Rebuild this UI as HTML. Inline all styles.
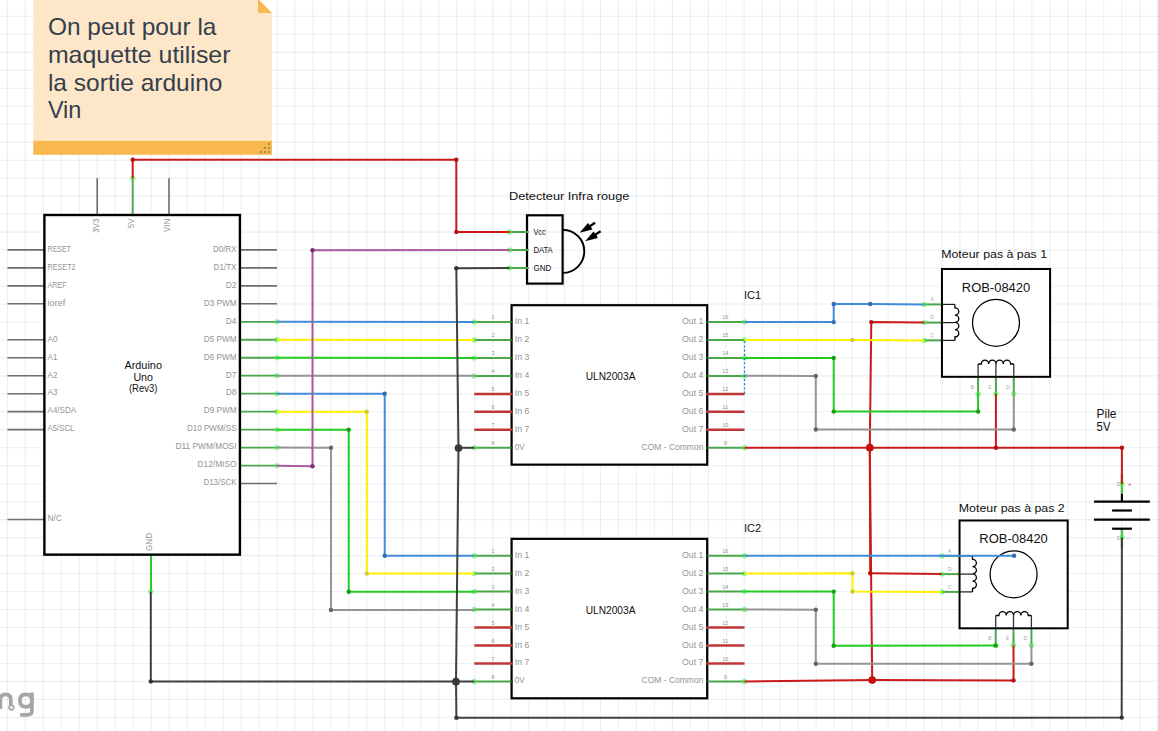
<!DOCTYPE html>
<html><head><meta charset="utf-8"><style>
html,body{margin:0;padding:0;background:#fff;overflow:hidden;}
svg{display:block;font-family:"Liberation Sans", sans-serif;}
</style></head><body>
<svg width="1158" height="731" viewBox="0 0 1158 731">
<rect x="0" y="0" width="1158" height="731" fill="#ffffff"/>
<g fill="none" stroke="#a6a6a6" stroke-width="3.7" stroke-linecap="butt"><path d="M0.3,709 L0.3,700 Q0.3,694.4 5.5,694.4 Q10.8,694.4 10.8,700 L10.8,705"/><circle cx="11.4" cy="707.6" r="2.3" stroke-width="1.7"/><path d="M31.9,692.6 L31.9,711.5 Q31.9,714.8 27,714.8 L20.2,714.8"/><path d="M31.9,701 Q31.9,694.4 25.8,694.4 Q19.9,694.4 19.9,700.8 Q19.9,706.8 25.8,706.8 Q31.9,706.8 31.9,701"/></g>
<g>
<line x1="-10.57" y1="0" x2="-10.57" y2="731" stroke="#96a5c3" stroke-opacity="0.18" stroke-width="1.1"/>
<line x1="7.40" y1="0" x2="7.40" y2="731" stroke="#96a5c3" stroke-opacity="0.18" stroke-width="1.1"/>
<line x1="25.37" y1="0" x2="25.37" y2="731" stroke="#96a5c3" stroke-opacity="0.18" stroke-width="1.1"/>
<line x1="43.35" y1="0" x2="43.35" y2="731" stroke="#96a5c3" stroke-opacity="0.18" stroke-width="1.1"/>
<line x1="61.32" y1="0" x2="61.32" y2="731" stroke="#96a5c3" stroke-opacity="0.18" stroke-width="1.1"/>
<line x1="79.29" y1="0" x2="79.29" y2="731" stroke="#96a5c3" stroke-opacity="0.18" stroke-width="1.1"/>
<line x1="97.27" y1="0" x2="97.27" y2="731" stroke="#96a5c3" stroke-opacity="0.18" stroke-width="1.1"/>
<line x1="115.24" y1="0" x2="115.24" y2="731" stroke="#96a5c3" stroke-opacity="0.18" stroke-width="1.1"/>
<line x1="133.21" y1="0" x2="133.21" y2="731" stroke="#96a5c3" stroke-opacity="0.18" stroke-width="1.1"/>
<line x1="151.18" y1="0" x2="151.18" y2="731" stroke="#96a5c3" stroke-opacity="0.18" stroke-width="1.1"/>
<line x1="169.16" y1="0" x2="169.16" y2="731" stroke="#96a5c3" stroke-opacity="0.18" stroke-width="1.1"/>
<line x1="187.13" y1="0" x2="187.13" y2="731" stroke="#96a5c3" stroke-opacity="0.18" stroke-width="1.1"/>
<line x1="205.10" y1="0" x2="205.10" y2="731" stroke="#96a5c3" stroke-opacity="0.18" stroke-width="1.1"/>
<line x1="223.08" y1="0" x2="223.08" y2="731" stroke="#96a5c3" stroke-opacity="0.18" stroke-width="1.1"/>
<line x1="241.05" y1="0" x2="241.05" y2="731" stroke="#96a5c3" stroke-opacity="0.18" stroke-width="1.1"/>
<line x1="259.02" y1="0" x2="259.02" y2="731" stroke="#96a5c3" stroke-opacity="0.18" stroke-width="1.1"/>
<line x1="276.99" y1="0" x2="276.99" y2="731" stroke="#96a5c3" stroke-opacity="0.18" stroke-width="1.1"/>
<line x1="294.97" y1="0" x2="294.97" y2="731" stroke="#96a5c3" stroke-opacity="0.18" stroke-width="1.1"/>
<line x1="312.94" y1="0" x2="312.94" y2="731" stroke="#96a5c3" stroke-opacity="0.18" stroke-width="1.1"/>
<line x1="330.91" y1="0" x2="330.91" y2="731" stroke="#96a5c3" stroke-opacity="0.18" stroke-width="1.1"/>
<line x1="348.89" y1="0" x2="348.89" y2="731" stroke="#96a5c3" stroke-opacity="0.18" stroke-width="1.1"/>
<line x1="366.86" y1="0" x2="366.86" y2="731" stroke="#96a5c3" stroke-opacity="0.18" stroke-width="1.1"/>
<line x1="384.83" y1="0" x2="384.83" y2="731" stroke="#96a5c3" stroke-opacity="0.18" stroke-width="1.1"/>
<line x1="402.81" y1="0" x2="402.81" y2="731" stroke="#96a5c3" stroke-opacity="0.18" stroke-width="1.1"/>
<line x1="420.78" y1="0" x2="420.78" y2="731" stroke="#96a5c3" stroke-opacity="0.18" stroke-width="1.1"/>
<line x1="438.75" y1="0" x2="438.75" y2="731" stroke="#96a5c3" stroke-opacity="0.18" stroke-width="1.1"/>
<line x1="456.72" y1="0" x2="456.72" y2="731" stroke="#96a5c3" stroke-opacity="0.18" stroke-width="1.1"/>
<line x1="474.70" y1="0" x2="474.70" y2="731" stroke="#96a5c3" stroke-opacity="0.18" stroke-width="1.1"/>
<line x1="492.67" y1="0" x2="492.67" y2="731" stroke="#96a5c3" stroke-opacity="0.18" stroke-width="1.1"/>
<line x1="510.64" y1="0" x2="510.64" y2="731" stroke="#96a5c3" stroke-opacity="0.18" stroke-width="1.1"/>
<line x1="528.62" y1="0" x2="528.62" y2="731" stroke="#96a5c3" stroke-opacity="0.18" stroke-width="1.1"/>
<line x1="546.59" y1="0" x2="546.59" y2="731" stroke="#96a5c3" stroke-opacity="0.18" stroke-width="1.1"/>
<line x1="564.56" y1="0" x2="564.56" y2="731" stroke="#96a5c3" stroke-opacity="0.18" stroke-width="1.1"/>
<line x1="582.54" y1="0" x2="582.54" y2="731" stroke="#96a5c3" stroke-opacity="0.18" stroke-width="1.1"/>
<line x1="600.51" y1="0" x2="600.51" y2="731" stroke="#96a5c3" stroke-opacity="0.18" stroke-width="1.1"/>
<line x1="618.48" y1="0" x2="618.48" y2="731" stroke="#96a5c3" stroke-opacity="0.18" stroke-width="1.1"/>
<line x1="636.45" y1="0" x2="636.45" y2="731" stroke="#96a5c3" stroke-opacity="0.18" stroke-width="1.1"/>
<line x1="654.43" y1="0" x2="654.43" y2="731" stroke="#96a5c3" stroke-opacity="0.18" stroke-width="1.1"/>
<line x1="672.40" y1="0" x2="672.40" y2="731" stroke="#96a5c3" stroke-opacity="0.18" stroke-width="1.1"/>
<line x1="690.37" y1="0" x2="690.37" y2="731" stroke="#96a5c3" stroke-opacity="0.18" stroke-width="1.1"/>
<line x1="708.35" y1="0" x2="708.35" y2="731" stroke="#96a5c3" stroke-opacity="0.18" stroke-width="1.1"/>
<line x1="726.32" y1="0" x2="726.32" y2="731" stroke="#96a5c3" stroke-opacity="0.18" stroke-width="1.1"/>
<line x1="744.29" y1="0" x2="744.29" y2="731" stroke="#96a5c3" stroke-opacity="0.18" stroke-width="1.1"/>
<line x1="762.27" y1="0" x2="762.27" y2="731" stroke="#96a5c3" stroke-opacity="0.18" stroke-width="1.1"/>
<line x1="780.24" y1="0" x2="780.24" y2="731" stroke="#96a5c3" stroke-opacity="0.18" stroke-width="1.1"/>
<line x1="798.21" y1="0" x2="798.21" y2="731" stroke="#96a5c3" stroke-opacity="0.18" stroke-width="1.1"/>
<line x1="816.18" y1="0" x2="816.18" y2="731" stroke="#96a5c3" stroke-opacity="0.18" stroke-width="1.1"/>
<line x1="834.16" y1="0" x2="834.16" y2="731" stroke="#96a5c3" stroke-opacity="0.18" stroke-width="1.1"/>
<line x1="852.13" y1="0" x2="852.13" y2="731" stroke="#96a5c3" stroke-opacity="0.18" stroke-width="1.1"/>
<line x1="870.10" y1="0" x2="870.10" y2="731" stroke="#96a5c3" stroke-opacity="0.18" stroke-width="1.1"/>
<line x1="888.08" y1="0" x2="888.08" y2="731" stroke="#96a5c3" stroke-opacity="0.18" stroke-width="1.1"/>
<line x1="906.05" y1="0" x2="906.05" y2="731" stroke="#96a5c3" stroke-opacity="0.18" stroke-width="1.1"/>
<line x1="924.02" y1="0" x2="924.02" y2="731" stroke="#96a5c3" stroke-opacity="0.18" stroke-width="1.1"/>
<line x1="942.00" y1="0" x2="942.00" y2="731" stroke="#96a5c3" stroke-opacity="0.18" stroke-width="1.1"/>
<line x1="959.97" y1="0" x2="959.97" y2="731" stroke="#96a5c3" stroke-opacity="0.18" stroke-width="1.1"/>
<line x1="977.94" y1="0" x2="977.94" y2="731" stroke="#96a5c3" stroke-opacity="0.18" stroke-width="1.1"/>
<line x1="995.91" y1="0" x2="995.91" y2="731" stroke="#96a5c3" stroke-opacity="0.18" stroke-width="1.1"/>
<line x1="1013.89" y1="0" x2="1013.89" y2="731" stroke="#96a5c3" stroke-opacity="0.18" stroke-width="1.1"/>
<line x1="1031.86" y1="0" x2="1031.86" y2="731" stroke="#96a5c3" stroke-opacity="0.18" stroke-width="1.1"/>
<line x1="1049.83" y1="0" x2="1049.83" y2="731" stroke="#96a5c3" stroke-opacity="0.18" stroke-width="1.1"/>
<line x1="1067.81" y1="0" x2="1067.81" y2="731" stroke="#96a5c3" stroke-opacity="0.18" stroke-width="1.1"/>
<line x1="1085.78" y1="0" x2="1085.78" y2="731" stroke="#96a5c3" stroke-opacity="0.18" stroke-width="1.1"/>
<line x1="1103.75" y1="0" x2="1103.75" y2="731" stroke="#96a5c3" stroke-opacity="0.18" stroke-width="1.1"/>
<line x1="1121.73" y1="0" x2="1121.73" y2="731" stroke="#96a5c3" stroke-opacity="0.18" stroke-width="1.1"/>
<line x1="1139.70" y1="0" x2="1139.70" y2="731" stroke="#96a5c3" stroke-opacity="0.18" stroke-width="1.1"/>
<line x1="1157.67" y1="0" x2="1157.67" y2="731" stroke="#96a5c3" stroke-opacity="0.18" stroke-width="1.1"/>
<line x1="0" y1="-1.57" x2="1158" y2="-1.57" stroke="#96a5c3" stroke-opacity="0.18" stroke-width="1.1"/>
<line x1="0" y1="16.40" x2="1158" y2="16.40" stroke="#96a5c3" stroke-opacity="0.18" stroke-width="1.1"/>
<line x1="0" y1="34.37" x2="1158" y2="34.37" stroke="#96a5c3" stroke-opacity="0.18" stroke-width="1.1"/>
<line x1="0" y1="52.35" x2="1158" y2="52.35" stroke="#96a5c3" stroke-opacity="0.18" stroke-width="1.1"/>
<line x1="0" y1="70.32" x2="1158" y2="70.32" stroke="#96a5c3" stroke-opacity="0.18" stroke-width="1.1"/>
<line x1="0" y1="88.29" x2="1158" y2="88.29" stroke="#96a5c3" stroke-opacity="0.18" stroke-width="1.1"/>
<line x1="0" y1="106.26" x2="1158" y2="106.26" stroke="#96a5c3" stroke-opacity="0.18" stroke-width="1.1"/>
<line x1="0" y1="124.24" x2="1158" y2="124.24" stroke="#96a5c3" stroke-opacity="0.18" stroke-width="1.1"/>
<line x1="0" y1="142.21" x2="1158" y2="142.21" stroke="#96a5c3" stroke-opacity="0.18" stroke-width="1.1"/>
<line x1="0" y1="160.18" x2="1158" y2="160.18" stroke="#96a5c3" stroke-opacity="0.18" stroke-width="1.1"/>
<line x1="0" y1="178.16" x2="1158" y2="178.16" stroke="#96a5c3" stroke-opacity="0.18" stroke-width="1.1"/>
<line x1="0" y1="196.13" x2="1158" y2="196.13" stroke="#96a5c3" stroke-opacity="0.18" stroke-width="1.1"/>
<line x1="0" y1="214.10" x2="1158" y2="214.10" stroke="#96a5c3" stroke-opacity="0.18" stroke-width="1.1"/>
<line x1="0" y1="232.08" x2="1158" y2="232.08" stroke="#96a5c3" stroke-opacity="0.18" stroke-width="1.1"/>
<line x1="0" y1="250.05" x2="1158" y2="250.05" stroke="#96a5c3" stroke-opacity="0.18" stroke-width="1.1"/>
<line x1="0" y1="268.02" x2="1158" y2="268.02" stroke="#96a5c3" stroke-opacity="0.18" stroke-width="1.1"/>
<line x1="0" y1="285.99" x2="1158" y2="285.99" stroke="#96a5c3" stroke-opacity="0.18" stroke-width="1.1"/>
<line x1="0" y1="303.97" x2="1158" y2="303.97" stroke="#96a5c3" stroke-opacity="0.18" stroke-width="1.1"/>
<line x1="0" y1="321.94" x2="1158" y2="321.94" stroke="#96a5c3" stroke-opacity="0.18" stroke-width="1.1"/>
<line x1="0" y1="339.91" x2="1158" y2="339.91" stroke="#96a5c3" stroke-opacity="0.18" stroke-width="1.1"/>
<line x1="0" y1="357.89" x2="1158" y2="357.89" stroke="#96a5c3" stroke-opacity="0.18" stroke-width="1.1"/>
<line x1="0" y1="375.86" x2="1158" y2="375.86" stroke="#96a5c3" stroke-opacity="0.18" stroke-width="1.1"/>
<line x1="0" y1="393.83" x2="1158" y2="393.83" stroke="#96a5c3" stroke-opacity="0.18" stroke-width="1.1"/>
<line x1="0" y1="411.81" x2="1158" y2="411.81" stroke="#96a5c3" stroke-opacity="0.18" stroke-width="1.1"/>
<line x1="0" y1="429.78" x2="1158" y2="429.78" stroke="#96a5c3" stroke-opacity="0.18" stroke-width="1.1"/>
<line x1="0" y1="447.75" x2="1158" y2="447.75" stroke="#96a5c3" stroke-opacity="0.18" stroke-width="1.1"/>
<line x1="0" y1="465.72" x2="1158" y2="465.72" stroke="#96a5c3" stroke-opacity="0.18" stroke-width="1.1"/>
<line x1="0" y1="483.70" x2="1158" y2="483.70" stroke="#96a5c3" stroke-opacity="0.18" stroke-width="1.1"/>
<line x1="0" y1="501.67" x2="1158" y2="501.67" stroke="#96a5c3" stroke-opacity="0.18" stroke-width="1.1"/>
<line x1="0" y1="519.64" x2="1158" y2="519.64" stroke="#96a5c3" stroke-opacity="0.18" stroke-width="1.1"/>
<line x1="0" y1="537.62" x2="1158" y2="537.62" stroke="#96a5c3" stroke-opacity="0.18" stroke-width="1.1"/>
<line x1="0" y1="555.59" x2="1158" y2="555.59" stroke="#96a5c3" stroke-opacity="0.18" stroke-width="1.1"/>
<line x1="0" y1="573.56" x2="1158" y2="573.56" stroke="#96a5c3" stroke-opacity="0.18" stroke-width="1.1"/>
<line x1="0" y1="591.54" x2="1158" y2="591.54" stroke="#96a5c3" stroke-opacity="0.18" stroke-width="1.1"/>
<line x1="0" y1="609.51" x2="1158" y2="609.51" stroke="#96a5c3" stroke-opacity="0.18" stroke-width="1.1"/>
<line x1="0" y1="627.48" x2="1158" y2="627.48" stroke="#96a5c3" stroke-opacity="0.18" stroke-width="1.1"/>
<line x1="0" y1="645.45" x2="1158" y2="645.45" stroke="#96a5c3" stroke-opacity="0.18" stroke-width="1.1"/>
<line x1="0" y1="663.43" x2="1158" y2="663.43" stroke="#96a5c3" stroke-opacity="0.18" stroke-width="1.1"/>
<line x1="0" y1="681.40" x2="1158" y2="681.40" stroke="#96a5c3" stroke-opacity="0.18" stroke-width="1.1"/>
<line x1="0" y1="699.37" x2="1158" y2="699.37" stroke="#96a5c3" stroke-opacity="0.18" stroke-width="1.1"/>
<line x1="0" y1="717.35" x2="1158" y2="717.35" stroke="#96a5c3" stroke-opacity="0.18" stroke-width="1.1"/>
</g>
<polygon points="33.3,-1 258,-1 272,13 272,141 33.3,141" fill="#fde7c8"/>
<polygon points="258,-1 258,13 272,13" fill="#f9b94f"/>
<rect x="33.3" y="140.8" width="238.7" height="14" fill="#f9b94f"/>
<rect x="267.9" y="143" width="2" height="2" fill="#a58a5e"/>
<rect x="263.9" y="147" width="2" height="2" fill="#a58a5e"/>
<rect x="267.9" y="147" width="2" height="2" fill="#a58a5e"/>
<rect x="259.9" y="151" width="2" height="2" fill="#a58a5e"/>
<rect x="263.9" y="151" width="2" height="2" fill="#a58a5e"/>
<rect x="267.9" y="151" width="2" height="2" fill="#a58a5e"/>
<text x="47.90" y="35.30" font-size="23.6" fill="#34404c" text-anchor="start" textLength="168.55" lengthAdjust="spacingAndGlyphs" >On peut pour la</text>
<text x="47.90" y="63.00" font-size="23.6" fill="#34404c" text-anchor="start" textLength="182.58" lengthAdjust="spacingAndGlyphs" >maquette utiliser</text>
<text x="47.90" y="90.60" font-size="23.6" fill="#34404c" text-anchor="start" textLength="174.65" lengthAdjust="spacingAndGlyphs" >la sortie arduino</text>
<text x="47.90" y="118.40" font-size="23.6" fill="#34404c" text-anchor="start" textLength="33.48" lengthAdjust="spacingAndGlyphs" >Vin</text>
<line x1="7.5" y1="249.9" x2="44.4" y2="249.9" stroke="#6e6e6e" stroke-width="1.6" stroke-linecap="butt"/>
<line x1="7.5" y1="267.873" x2="44.4" y2="267.873" stroke="#6e6e6e" stroke-width="1.6" stroke-linecap="butt"/>
<line x1="7.5" y1="285.846" x2="44.4" y2="285.846" stroke="#6e6e6e" stroke-width="1.6" stroke-linecap="butt"/>
<line x1="7.5" y1="303.819" x2="44.4" y2="303.819" stroke="#6e6e6e" stroke-width="1.6" stroke-linecap="butt"/>
<line x1="7.5" y1="339.765" x2="44.4" y2="339.765" stroke="#6e6e6e" stroke-width="1.6" stroke-linecap="butt"/>
<line x1="7.5" y1="357.738" x2="44.4" y2="357.738" stroke="#6e6e6e" stroke-width="1.6" stroke-linecap="butt"/>
<line x1="7.5" y1="375.711" x2="44.4" y2="375.711" stroke="#6e6e6e" stroke-width="1.6" stroke-linecap="butt"/>
<line x1="7.5" y1="393.68399999999997" x2="44.4" y2="393.68399999999997" stroke="#6e6e6e" stroke-width="1.6" stroke-linecap="butt"/>
<line x1="7.5" y1="411.65700000000004" x2="44.4" y2="411.65700000000004" stroke="#6e6e6e" stroke-width="1.6" stroke-linecap="butt"/>
<line x1="7.5" y1="429.63" x2="44.4" y2="429.63" stroke="#6e6e6e" stroke-width="1.6" stroke-linecap="butt"/>
<line x1="7.5" y1="519.495" x2="44.4" y2="519.495" stroke="#6e6e6e" stroke-width="1.6" stroke-linecap="butt"/>
<line x1="239.9" y1="249.9" x2="277" y2="249.9" stroke="#6e6e6e" stroke-width="1.6" stroke-linecap="butt"/>
<line x1="239.9" y1="267.873" x2="277" y2="267.873" stroke="#6e6e6e" stroke-width="1.6" stroke-linecap="butt"/>
<line x1="239.9" y1="285.846" x2="277" y2="285.846" stroke="#6e6e6e" stroke-width="1.6" stroke-linecap="butt"/>
<line x1="239.9" y1="303.819" x2="277" y2="303.819" stroke="#6e6e6e" stroke-width="1.6" stroke-linecap="butt"/>
<line x1="239.9" y1="321.79200000000003" x2="277" y2="321.79200000000003" stroke="#4ca64c" stroke-width="1.8" stroke-linecap="butt"/>
<line x1="239.9" y1="339.765" x2="277" y2="339.765" stroke="#4ca64c" stroke-width="1.8" stroke-linecap="butt"/>
<line x1="239.9" y1="357.738" x2="277" y2="357.738" stroke="#4ca64c" stroke-width="1.8" stroke-linecap="butt"/>
<line x1="239.9" y1="375.711" x2="277" y2="375.711" stroke="#4ca64c" stroke-width="1.8" stroke-linecap="butt"/>
<line x1="239.9" y1="393.68399999999997" x2="277" y2="393.68399999999997" stroke="#4ca64c" stroke-width="1.8" stroke-linecap="butt"/>
<line x1="239.9" y1="411.65700000000004" x2="277" y2="411.65700000000004" stroke="#4ca64c" stroke-width="1.8" stroke-linecap="butt"/>
<line x1="239.9" y1="429.63" x2="277" y2="429.63" stroke="#4ca64c" stroke-width="1.8" stroke-linecap="butt"/>
<line x1="239.9" y1="447.60299999999995" x2="277" y2="447.60299999999995" stroke="#4ca64c" stroke-width="1.8" stroke-linecap="butt"/>
<line x1="239.9" y1="465.576" x2="277" y2="465.576" stroke="#4ca64c" stroke-width="1.8" stroke-linecap="butt"/>
<line x1="239.9" y1="483.549" x2="277" y2="483.549" stroke="#6e6e6e" stroke-width="1.6" stroke-linecap="butt"/>
<line x1="97.2" y1="178.3" x2="97.2" y2="215.0" stroke="#6e6e6e" stroke-width="1.6" stroke-linecap="butt"/>
<line x1="169.0" y1="178.3" x2="169.0" y2="215.0" stroke="#6e6e6e" stroke-width="1.6" stroke-linecap="butt"/>
<line x1="132.7" y1="178.3" x2="132.7" y2="215.0" stroke="#4ca64c" stroke-width="1.9" stroke-linecap="butt"/>
<line x1="151.0" y1="553.4499999999999" x2="151.0" y2="591.4" stroke="#28cc28" stroke-width="2.0" stroke-linecap="butt"/>
<rect x="44.4" y="215.0" width="195.5" height="339.65" fill="#fff" stroke="#000000" stroke-width="2.4"/>
<text x="47.60" y="251.70" font-size="9.1" fill="#939393" text-anchor="start" textLength="23.23" lengthAdjust="spacingAndGlyphs" >RESET</text>
<text x="47.60" y="269.67" font-size="9.1" fill="#939393" text-anchor="start" textLength="27.92" lengthAdjust="spacingAndGlyphs" >RESET2</text>
<text x="47.60" y="287.65" font-size="9.1" fill="#939393" text-anchor="start" textLength="19.05" lengthAdjust="spacingAndGlyphs" >AREF</text>
<text x="47.60" y="305.62" font-size="9.1" fill="#939393" text-anchor="start" textLength="17.59" lengthAdjust="spacingAndGlyphs" >ioref</text>
<text x="47.60" y="341.56" font-size="9.1" fill="#939393" text-anchor="start" textLength="9.88" lengthAdjust="spacingAndGlyphs" >A0</text>
<text x="47.60" y="359.54" font-size="9.1" fill="#939393" text-anchor="start" textLength="9.88" lengthAdjust="spacingAndGlyphs" >A1</text>
<text x="47.60" y="377.51" font-size="9.1" fill="#939393" text-anchor="start" textLength="9.88" lengthAdjust="spacingAndGlyphs" >A2</text>
<text x="47.60" y="395.48" font-size="9.1" fill="#939393" text-anchor="start" textLength="9.88" lengthAdjust="spacingAndGlyphs" >A3</text>
<text x="47.60" y="413.46" font-size="9.1" fill="#939393" text-anchor="start" textLength="28.39" lengthAdjust="spacingAndGlyphs" >A4/SDA</text>
<text x="47.60" y="431.43" font-size="9.1" fill="#939393" text-anchor="start" textLength="26.82" lengthAdjust="spacingAndGlyphs" >A5/SCL</text>
<text x="47.60" y="521.29" font-size="9.1" fill="#939393" text-anchor="start" textLength="14.37" lengthAdjust="spacingAndGlyphs" >N/C</text>
<text x="236.50" y="251.70" font-size="9.1" fill="#939393" text-anchor="end" textLength="23.48" lengthAdjust="spacingAndGlyphs" >D0/RX</text>
<text x="236.50" y="269.67" font-size="9.1" fill="#939393" text-anchor="end" textLength="22.95" lengthAdjust="spacingAndGlyphs" >D1/TX</text>
<text x="236.50" y="287.65" font-size="9.1" fill="#939393" text-anchor="end" textLength="10.67" lengthAdjust="spacingAndGlyphs" >D2</text>
<text x="236.50" y="305.62" font-size="9.1" fill="#939393" text-anchor="end" textLength="32.73" lengthAdjust="spacingAndGlyphs" >D3 PWM</text>
<text x="236.50" y="323.59" font-size="9.1" fill="#939393" text-anchor="end" textLength="10.67" lengthAdjust="spacingAndGlyphs" >D4</text>
<text x="236.50" y="341.56" font-size="9.1" fill="#939393" text-anchor="end" textLength="32.73" lengthAdjust="spacingAndGlyphs" >D5 PWM</text>
<text x="236.50" y="359.54" font-size="9.1" fill="#939393" text-anchor="end" textLength="32.73" lengthAdjust="spacingAndGlyphs" >D6 PWM</text>
<text x="236.50" y="377.51" font-size="9.1" fill="#939393" text-anchor="end" textLength="10.67" lengthAdjust="spacingAndGlyphs" >D7</text>
<text x="236.50" y="395.48" font-size="9.1" fill="#939393" text-anchor="end" textLength="10.67" lengthAdjust="spacingAndGlyphs" >D8</text>
<text x="236.50" y="413.46" font-size="9.1" fill="#939393" text-anchor="end" textLength="32.73" lengthAdjust="spacingAndGlyphs" >D9 PWM</text>
<text x="236.50" y="431.43" font-size="9.1" fill="#939393" text-anchor="end" textLength="49.43" lengthAdjust="spacingAndGlyphs" >D10 PWM/SS</text>
<text x="236.50" y="449.40" font-size="9.1" fill="#939393" text-anchor="end" textLength="61.00" lengthAdjust="spacingAndGlyphs" >D11 PWM/MOSI</text>
<text x="236.50" y="467.38" font-size="9.1" fill="#939393" text-anchor="end" textLength="38.94" lengthAdjust="spacingAndGlyphs" >D12/MISO</text>
<text x="236.50" y="485.35" font-size="9.1" fill="#939393" text-anchor="end" textLength="33.07" lengthAdjust="spacingAndGlyphs" >D13/SCK</text>
<text transform="translate(98.50,218.60) rotate(-90)" font-size="9.1" fill="#939393" text-anchor="end" textLength="14.26" lengthAdjust="spacingAndGlyphs">3V3</text>
<text transform="translate(134.00,218.60) rotate(-90)" font-size="9.1" fill="#939393" text-anchor="end" textLength="9.57" lengthAdjust="spacingAndGlyphs">5V</text>
<text transform="translate(170.30,218.60) rotate(-90)" font-size="9.1" fill="#939393" text-anchor="end" textLength="13.35" lengthAdjust="spacingAndGlyphs">VIN</text>
<text transform="translate(151.60,551.00) rotate(-90)" font-size="9.1" fill="#939393" text-anchor="start" textLength="18.13" lengthAdjust="spacingAndGlyphs">GND</text>
<text x="143.20" y="368.80" font-size="10.5" fill="#111111" text-anchor="middle" textLength="37.55" lengthAdjust="spacingAndGlyphs" >Arduino</text>
<text x="143.20" y="381.00" font-size="10.5" fill="#111111" text-anchor="middle" textLength="19.65" lengthAdjust="spacingAndGlyphs" >Uno</text>
<text x="143.20" y="391.50" font-size="10.5" fill="#111111" text-anchor="middle" textLength="28.52" lengthAdjust="spacingAndGlyphs" >(Rev3)</text>
<rect x="527.0" y="215.3" width="35.6" height="68.3" fill="none" stroke="#000" stroke-width="2.2"/>
<line x1="509.6" y1="232.0" x2="528.6" y2="232.0" stroke="#4ca64c" stroke-width="2" stroke-linecap="butt"/>
<line x1="509.6" y1="250.0" x2="528.6" y2="250.0" stroke="#4ca64c" stroke-width="2" stroke-linecap="butt"/>
<line x1="509.6" y1="268.0" x2="528.6" y2="268.0" stroke="#4ca64c" stroke-width="2" stroke-linecap="butt"/>
<path d="M562.7,229.7 A21.6,21.6 0 0 1 562.7,272.9" fill="none" stroke="#000" stroke-width="1.9"/>
<line x1="595.1" y1="222.7" x2="589.5" y2="226.4" stroke="#000" stroke-width="2.3"/>
<polygon points="579.6,232.7 588.0,222.9 591.0,226.8 592.3,229.4" fill="#000"/>
<line x1="600.6" y1="231.2" x2="595.0" y2="234.9" stroke="#000" stroke-width="2.3"/>
<polygon points="585.1,241.2 593.5,231.4 596.5,235.3 597.8,237.9" fill="#000"/>
<text x="533.40" y="234.60" font-size="9.1" fill="#111111" text-anchor="start" textLength="12.37" lengthAdjust="spacingAndGlyphs" >Vcc</text>
<text x="533.40" y="252.60" font-size="9.1" fill="#111111" text-anchor="start" textLength="19.34" lengthAdjust="spacingAndGlyphs" >DATA</text>
<text x="533.40" y="270.60" font-size="9.1" fill="#111111" text-anchor="start" textLength="17.91" lengthAdjust="spacingAndGlyphs" >GND</text>
<text x="509.00" y="200.00" font-size="11.0" fill="#111111" text-anchor="start" textLength="120.32" lengthAdjust="spacingAndGlyphs" >Detecteur Infra rouge</text>
<rect x="511.6" y="305.2" width="195.60000000000002" height="159.45" fill="#fff" stroke="#000" stroke-width="2.2"/>
<line x1="474.3" y1="322.0" x2="510.5" y2="322.0" stroke="#4ca64c" stroke-width="2" stroke-linecap="butt"/>
<line x1="708.3000000000001" y1="322.0" x2="744.5" y2="322.0" stroke="#4ca64c" stroke-width="2" stroke-linecap="butt"/>
<line x1="510.5" y1="322.0" x2="512.6" y2="322.0" stroke="#1c5a1c" stroke-width="2" stroke-linecap="butt"/>
<line x1="708.3000000000001" y1="322.0" x2="706.2" y2="322.0" stroke="#1c5a1c" stroke-width="2" stroke-linecap="butt"/>
<line x1="474.3" y1="339.973" x2="510.5" y2="339.973" stroke="#4ca64c" stroke-width="2" stroke-linecap="butt"/>
<line x1="708.3000000000001" y1="339.973" x2="744.5" y2="339.973" stroke="#4ca64c" stroke-width="2" stroke-linecap="butt"/>
<line x1="510.5" y1="339.973" x2="512.6" y2="339.973" stroke="#1c5a1c" stroke-width="2" stroke-linecap="butt"/>
<line x1="708.3000000000001" y1="339.973" x2="706.2" y2="339.973" stroke="#1c5a1c" stroke-width="2" stroke-linecap="butt"/>
<line x1="474.3" y1="357.946" x2="510.5" y2="357.946" stroke="#4ca64c" stroke-width="2" stroke-linecap="butt"/>
<line x1="708.3000000000001" y1="357.946" x2="744.5" y2="357.946" stroke="#4ca64c" stroke-width="2" stroke-linecap="butt"/>
<line x1="510.5" y1="357.946" x2="512.6" y2="357.946" stroke="#1c5a1c" stroke-width="2" stroke-linecap="butt"/>
<line x1="708.3000000000001" y1="357.946" x2="706.2" y2="357.946" stroke="#1c5a1c" stroke-width="2" stroke-linecap="butt"/>
<line x1="474.3" y1="375.919" x2="510.5" y2="375.919" stroke="#4ca64c" stroke-width="2" stroke-linecap="butt"/>
<line x1="708.3000000000001" y1="375.919" x2="744.5" y2="375.919" stroke="#4ca64c" stroke-width="2" stroke-linecap="butt"/>
<line x1="510.5" y1="375.919" x2="512.6" y2="375.919" stroke="#1c5a1c" stroke-width="2" stroke-linecap="butt"/>
<line x1="708.3000000000001" y1="375.919" x2="706.2" y2="375.919" stroke="#1c5a1c" stroke-width="2" stroke-linecap="butt"/>
<line x1="474.3" y1="393.892" x2="512.6" y2="393.892" stroke="#c03636" stroke-width="2.5" stroke-linecap="butt"/>
<line x1="706.2" y1="393.892" x2="744.5" y2="393.892" stroke="#c03636" stroke-width="2.5" stroke-linecap="butt"/>
<line x1="474.3" y1="411.865" x2="512.6" y2="411.865" stroke="#c03636" stroke-width="2.5" stroke-linecap="butt"/>
<line x1="706.2" y1="411.865" x2="744.5" y2="411.865" stroke="#c03636" stroke-width="2.5" stroke-linecap="butt"/>
<line x1="474.3" y1="429.83799999999997" x2="512.6" y2="429.83799999999997" stroke="#c03636" stroke-width="2.5" stroke-linecap="butt"/>
<line x1="706.2" y1="429.83799999999997" x2="744.5" y2="429.83799999999997" stroke="#c03636" stroke-width="2.5" stroke-linecap="butt"/>
<line x1="474.3" y1="447.811" x2="510.5" y2="447.811" stroke="#4ca64c" stroke-width="2" stroke-linecap="butt"/>
<line x1="708.3000000000001" y1="447.811" x2="744.5" y2="447.811" stroke="#4ca64c" stroke-width="2" stroke-linecap="butt"/>
<line x1="510.5" y1="447.811" x2="512.6" y2="447.811" stroke="#1c5a1c" stroke-width="2" stroke-linecap="butt"/>
<line x1="708.3000000000001" y1="447.811" x2="706.2" y2="447.811" stroke="#1c5a1c" stroke-width="2" stroke-linecap="butt"/>
<text x="493.00" y="319.30" font-size="6.1" fill="#939393" text-anchor="middle" textLength="3.09" lengthAdjust="spacingAndGlyphs" >1</text>
<text x="725.30" y="319.30" font-size="6.1" fill="#939393" text-anchor="middle" textLength="6.18" lengthAdjust="spacingAndGlyphs" >16</text>
<text x="514.80" y="324.00" font-size="9.2" fill="#939393" text-anchor="start" textLength="14.48" lengthAdjust="spacingAndGlyphs" >In 1</text>
<text x="703.40" y="324.00" font-size="9.2" fill="#939393" text-anchor="end" textLength="21.39" lengthAdjust="spacingAndGlyphs" >Out 1</text>
<text x="493.00" y="337.27" font-size="6.1" fill="#939393" text-anchor="middle" textLength="3.09" lengthAdjust="spacingAndGlyphs" >2</text>
<text x="725.30" y="337.27" font-size="6.1" fill="#939393" text-anchor="middle" textLength="6.18" lengthAdjust="spacingAndGlyphs" >15</text>
<text x="514.80" y="341.97" font-size="9.2" fill="#939393" text-anchor="start" textLength="14.48" lengthAdjust="spacingAndGlyphs" >In 2</text>
<text x="703.40" y="341.97" font-size="9.2" fill="#939393" text-anchor="end" textLength="21.39" lengthAdjust="spacingAndGlyphs" >Out 2</text>
<text x="493.00" y="355.25" font-size="6.1" fill="#939393" text-anchor="middle" textLength="3.09" lengthAdjust="spacingAndGlyphs" >3</text>
<text x="725.30" y="355.25" font-size="6.1" fill="#939393" text-anchor="middle" textLength="6.18" lengthAdjust="spacingAndGlyphs" >14</text>
<text x="514.80" y="359.95" font-size="9.2" fill="#939393" text-anchor="start" textLength="14.48" lengthAdjust="spacingAndGlyphs" >In 3</text>
<text x="703.40" y="359.95" font-size="9.2" fill="#939393" text-anchor="end" textLength="21.39" lengthAdjust="spacingAndGlyphs" >Out 3</text>
<text x="493.00" y="373.22" font-size="6.1" fill="#939393" text-anchor="middle" textLength="3.09" lengthAdjust="spacingAndGlyphs" >4</text>
<text x="725.30" y="373.22" font-size="6.1" fill="#939393" text-anchor="middle" textLength="6.18" lengthAdjust="spacingAndGlyphs" >13</text>
<text x="514.80" y="377.92" font-size="9.2" fill="#939393" text-anchor="start" textLength="14.48" lengthAdjust="spacingAndGlyphs" >In 4</text>
<text x="703.40" y="377.92" font-size="9.2" fill="#939393" text-anchor="end" textLength="21.39" lengthAdjust="spacingAndGlyphs" >Out 4</text>
<text x="493.00" y="391.19" font-size="6.1" fill="#939393" text-anchor="middle" textLength="3.09" lengthAdjust="spacingAndGlyphs" >5</text>
<text x="725.30" y="391.19" font-size="6.1" fill="#939393" text-anchor="middle" textLength="6.18" lengthAdjust="spacingAndGlyphs" >12</text>
<text x="514.80" y="395.89" font-size="9.2" fill="#939393" text-anchor="start" textLength="14.48" lengthAdjust="spacingAndGlyphs" >In 5</text>
<text x="703.40" y="395.89" font-size="9.2" fill="#939393" text-anchor="end" textLength="21.39" lengthAdjust="spacingAndGlyphs" >Out 5</text>
<text x="493.00" y="409.17" font-size="6.1" fill="#939393" text-anchor="middle" textLength="3.09" lengthAdjust="spacingAndGlyphs" >6</text>
<text x="725.30" y="409.17" font-size="6.1" fill="#939393" text-anchor="middle" textLength="6.18" lengthAdjust="spacingAndGlyphs" >11</text>
<text x="514.80" y="413.87" font-size="9.2" fill="#939393" text-anchor="start" textLength="14.48" lengthAdjust="spacingAndGlyphs" >In 6</text>
<text x="703.40" y="413.87" font-size="9.2" fill="#939393" text-anchor="end" textLength="21.39" lengthAdjust="spacingAndGlyphs" >Out 6</text>
<text x="493.00" y="427.14" font-size="6.1" fill="#939393" text-anchor="middle" textLength="3.09" lengthAdjust="spacingAndGlyphs" >7</text>
<text x="725.30" y="427.14" font-size="6.1" fill="#939393" text-anchor="middle" textLength="6.18" lengthAdjust="spacingAndGlyphs" >10</text>
<text x="514.80" y="431.84" font-size="9.2" fill="#939393" text-anchor="start" textLength="14.48" lengthAdjust="spacingAndGlyphs" >In 7</text>
<text x="703.40" y="431.84" font-size="9.2" fill="#939393" text-anchor="end" textLength="21.39" lengthAdjust="spacingAndGlyphs" >Out 7</text>
<text x="493.00" y="445.11" font-size="6.1" fill="#939393" text-anchor="middle" textLength="3.09" lengthAdjust="spacingAndGlyphs" >8</text>
<text x="725.30" y="445.11" font-size="6.1" fill="#939393" text-anchor="middle" textLength="3.09" lengthAdjust="spacingAndGlyphs" >9</text>
<text x="514.80" y="449.81" font-size="9.2" fill="#939393" text-anchor="start" textLength="9.80" lengthAdjust="spacingAndGlyphs" >0V</text>
<text x="703.40" y="449.81" font-size="9.2" fill="#939393" text-anchor="end" textLength="61.81" lengthAdjust="spacingAndGlyphs" >COM - Common</text>
<text x="610.60" y="380.00" font-size="10.1" fill="#111111" text-anchor="middle" textLength="49.70" lengthAdjust="spacingAndGlyphs" >ULN2003A</text>
<text x="744.00" y="298.60" font-size="11.3" fill="#111111" text-anchor="start" textLength="17.19" lengthAdjust="spacingAndGlyphs" >IC1</text>
<rect x="511.6" y="538.85" width="195.60000000000002" height="159.45" fill="#fff" stroke="#000" stroke-width="2.2"/>
<line x1="474.3" y1="555.65" x2="510.5" y2="555.65" stroke="#4ca64c" stroke-width="2" stroke-linecap="butt"/>
<line x1="708.3000000000001" y1="555.65" x2="744.5" y2="555.65" stroke="#4ca64c" stroke-width="2" stroke-linecap="butt"/>
<line x1="510.5" y1="555.65" x2="512.6" y2="555.65" stroke="#1c5a1c" stroke-width="2" stroke-linecap="butt"/>
<line x1="708.3000000000001" y1="555.65" x2="706.2" y2="555.65" stroke="#1c5a1c" stroke-width="2" stroke-linecap="butt"/>
<line x1="474.3" y1="573.6229999999999" x2="510.5" y2="573.6229999999999" stroke="#4ca64c" stroke-width="2" stroke-linecap="butt"/>
<line x1="708.3000000000001" y1="573.6229999999999" x2="744.5" y2="573.6229999999999" stroke="#4ca64c" stroke-width="2" stroke-linecap="butt"/>
<line x1="510.5" y1="573.6229999999999" x2="512.6" y2="573.6229999999999" stroke="#1c5a1c" stroke-width="2" stroke-linecap="butt"/>
<line x1="708.3000000000001" y1="573.6229999999999" x2="706.2" y2="573.6229999999999" stroke="#1c5a1c" stroke-width="2" stroke-linecap="butt"/>
<line x1="474.3" y1="591.596" x2="510.5" y2="591.596" stroke="#4ca64c" stroke-width="2" stroke-linecap="butt"/>
<line x1="708.3000000000001" y1="591.596" x2="744.5" y2="591.596" stroke="#4ca64c" stroke-width="2" stroke-linecap="butt"/>
<line x1="510.5" y1="591.596" x2="512.6" y2="591.596" stroke="#1c5a1c" stroke-width="2" stroke-linecap="butt"/>
<line x1="708.3000000000001" y1="591.596" x2="706.2" y2="591.596" stroke="#1c5a1c" stroke-width="2" stroke-linecap="butt"/>
<line x1="474.3" y1="609.569" x2="510.5" y2="609.569" stroke="#4ca64c" stroke-width="2" stroke-linecap="butt"/>
<line x1="708.3000000000001" y1="609.569" x2="744.5" y2="609.569" stroke="#4ca64c" stroke-width="2" stroke-linecap="butt"/>
<line x1="510.5" y1="609.569" x2="512.6" y2="609.569" stroke="#1c5a1c" stroke-width="2" stroke-linecap="butt"/>
<line x1="708.3000000000001" y1="609.569" x2="706.2" y2="609.569" stroke="#1c5a1c" stroke-width="2" stroke-linecap="butt"/>
<line x1="474.3" y1="627.5419999999999" x2="512.6" y2="627.5419999999999" stroke="#c03636" stroke-width="2.5" stroke-linecap="butt"/>
<line x1="706.2" y1="627.5419999999999" x2="744.5" y2="627.5419999999999" stroke="#c03636" stroke-width="2.5" stroke-linecap="butt"/>
<line x1="474.3" y1="645.515" x2="512.6" y2="645.515" stroke="#c03636" stroke-width="2.5" stroke-linecap="butt"/>
<line x1="706.2" y1="645.515" x2="744.5" y2="645.515" stroke="#c03636" stroke-width="2.5" stroke-linecap="butt"/>
<line x1="474.3" y1="663.4879999999999" x2="512.6" y2="663.4879999999999" stroke="#c03636" stroke-width="2.5" stroke-linecap="butt"/>
<line x1="706.2" y1="663.4879999999999" x2="744.5" y2="663.4879999999999" stroke="#c03636" stroke-width="2.5" stroke-linecap="butt"/>
<line x1="474.3" y1="681.461" x2="510.5" y2="681.461" stroke="#4ca64c" stroke-width="2" stroke-linecap="butt"/>
<line x1="708.3000000000001" y1="681.461" x2="744.5" y2="681.461" stroke="#4ca64c" stroke-width="2" stroke-linecap="butt"/>
<line x1="510.5" y1="681.461" x2="512.6" y2="681.461" stroke="#1c5a1c" stroke-width="2" stroke-linecap="butt"/>
<line x1="708.3000000000001" y1="681.461" x2="706.2" y2="681.461" stroke="#1c5a1c" stroke-width="2" stroke-linecap="butt"/>
<text x="493.00" y="552.95" font-size="6.1" fill="#939393" text-anchor="middle" textLength="3.09" lengthAdjust="spacingAndGlyphs" >1</text>
<text x="725.30" y="552.95" font-size="6.1" fill="#939393" text-anchor="middle" textLength="6.18" lengthAdjust="spacingAndGlyphs" >16</text>
<text x="514.80" y="557.65" font-size="9.2" fill="#939393" text-anchor="start" textLength="14.48" lengthAdjust="spacingAndGlyphs" >In 1</text>
<text x="703.40" y="557.65" font-size="9.2" fill="#939393" text-anchor="end" textLength="21.39" lengthAdjust="spacingAndGlyphs" >Out 1</text>
<text x="493.00" y="570.92" font-size="6.1" fill="#939393" text-anchor="middle" textLength="3.09" lengthAdjust="spacingAndGlyphs" >2</text>
<text x="725.30" y="570.92" font-size="6.1" fill="#939393" text-anchor="middle" textLength="6.18" lengthAdjust="spacingAndGlyphs" >15</text>
<text x="514.80" y="575.62" font-size="9.2" fill="#939393" text-anchor="start" textLength="14.48" lengthAdjust="spacingAndGlyphs" >In 2</text>
<text x="703.40" y="575.62" font-size="9.2" fill="#939393" text-anchor="end" textLength="21.39" lengthAdjust="spacingAndGlyphs" >Out 2</text>
<text x="493.00" y="588.90" font-size="6.1" fill="#939393" text-anchor="middle" textLength="3.09" lengthAdjust="spacingAndGlyphs" >3</text>
<text x="725.30" y="588.90" font-size="6.1" fill="#939393" text-anchor="middle" textLength="6.18" lengthAdjust="spacingAndGlyphs" >14</text>
<text x="514.80" y="593.60" font-size="9.2" fill="#939393" text-anchor="start" textLength="14.48" lengthAdjust="spacingAndGlyphs" >In 3</text>
<text x="703.40" y="593.60" font-size="9.2" fill="#939393" text-anchor="end" textLength="21.39" lengthAdjust="spacingAndGlyphs" >Out 3</text>
<text x="493.00" y="606.87" font-size="6.1" fill="#939393" text-anchor="middle" textLength="3.09" lengthAdjust="spacingAndGlyphs" >4</text>
<text x="725.30" y="606.87" font-size="6.1" fill="#939393" text-anchor="middle" textLength="6.18" lengthAdjust="spacingAndGlyphs" >13</text>
<text x="514.80" y="611.57" font-size="9.2" fill="#939393" text-anchor="start" textLength="14.48" lengthAdjust="spacingAndGlyphs" >In 4</text>
<text x="703.40" y="611.57" font-size="9.2" fill="#939393" text-anchor="end" textLength="21.39" lengthAdjust="spacingAndGlyphs" >Out 4</text>
<text x="493.00" y="624.84" font-size="6.1" fill="#939393" text-anchor="middle" textLength="3.09" lengthAdjust="spacingAndGlyphs" >5</text>
<text x="725.30" y="624.84" font-size="6.1" fill="#939393" text-anchor="middle" textLength="6.18" lengthAdjust="spacingAndGlyphs" >12</text>
<text x="514.80" y="629.54" font-size="9.2" fill="#939393" text-anchor="start" textLength="14.48" lengthAdjust="spacingAndGlyphs" >In 5</text>
<text x="703.40" y="629.54" font-size="9.2" fill="#939393" text-anchor="end" textLength="21.39" lengthAdjust="spacingAndGlyphs" >Out 5</text>
<text x="493.00" y="642.81" font-size="6.1" fill="#939393" text-anchor="middle" textLength="3.09" lengthAdjust="spacingAndGlyphs" >6</text>
<text x="725.30" y="642.81" font-size="6.1" fill="#939393" text-anchor="middle" textLength="6.18" lengthAdjust="spacingAndGlyphs" >11</text>
<text x="514.80" y="647.51" font-size="9.2" fill="#939393" text-anchor="start" textLength="14.48" lengthAdjust="spacingAndGlyphs" >In 6</text>
<text x="703.40" y="647.51" font-size="9.2" fill="#939393" text-anchor="end" textLength="21.39" lengthAdjust="spacingAndGlyphs" >Out 6</text>
<text x="493.00" y="660.79" font-size="6.1" fill="#939393" text-anchor="middle" textLength="3.09" lengthAdjust="spacingAndGlyphs" >7</text>
<text x="725.30" y="660.79" font-size="6.1" fill="#939393" text-anchor="middle" textLength="6.18" lengthAdjust="spacingAndGlyphs" >10</text>
<text x="514.80" y="665.49" font-size="9.2" fill="#939393" text-anchor="start" textLength="14.48" lengthAdjust="spacingAndGlyphs" >In 7</text>
<text x="703.40" y="665.49" font-size="9.2" fill="#939393" text-anchor="end" textLength="21.39" lengthAdjust="spacingAndGlyphs" >Out 7</text>
<text x="493.00" y="678.76" font-size="6.1" fill="#939393" text-anchor="middle" textLength="3.09" lengthAdjust="spacingAndGlyphs" >8</text>
<text x="725.30" y="678.76" font-size="6.1" fill="#939393" text-anchor="middle" textLength="3.09" lengthAdjust="spacingAndGlyphs" >9</text>
<text x="514.80" y="683.46" font-size="9.2" fill="#939393" text-anchor="start" textLength="9.80" lengthAdjust="spacingAndGlyphs" >0V</text>
<text x="703.40" y="683.46" font-size="9.2" fill="#939393" text-anchor="end" textLength="61.81" lengthAdjust="spacingAndGlyphs" >COM - Common</text>
<text x="610.60" y="613.65" font-size="10.1" fill="#111111" text-anchor="middle" textLength="49.70" lengthAdjust="spacingAndGlyphs" >ULN2003A</text>
<text x="744.00" y="532.25" font-size="11.3" fill="#111111" text-anchor="start" textLength="17.19" lengthAdjust="spacingAndGlyphs" >IC2</text>
<line x1="924.2" y1="304.4" x2="941.95" y2="304.4" stroke="#4ca64c" stroke-width="2" stroke-linecap="butt"/>
<line x1="924.2" y1="322.6" x2="941.95" y2="322.6" stroke="#4ca64c" stroke-width="2" stroke-linecap="butt"/>
<line x1="924.2" y1="340.4" x2="941.95" y2="340.4" stroke="#4ca64c" stroke-width="2" stroke-linecap="butt"/>
<line x1="978.1" y1="376.8" x2="978.1" y2="394.0" stroke="#4ca64c" stroke-width="2" stroke-linecap="butt"/>
<line x1="995.9" y1="376.8" x2="995.9" y2="394.0" stroke="#4ca64c" stroke-width="2" stroke-linecap="butt"/>
<line x1="1013.8" y1="376.8" x2="1013.8" y2="394.0" stroke="#4ca64c" stroke-width="2" stroke-linecap="butt"/>
<rect x="941.95" y="269.0" width="108.15" height="107.80" fill="#fff" stroke="#000" stroke-width="2"/>
<line x1="941.95" y1="304.4" x2="954.9" y2="304.4" stroke="#1a1a1a" stroke-width="1.2" stroke-linecap="butt"/>
<line x1="941.95" y1="322.6" x2="954.9" y2="322.6" stroke="#1a1a1a" stroke-width="1.2" stroke-linecap="butt"/>
<line x1="941.95" y1="340.4" x2="954.9" y2="340.4" stroke="#1a1a1a" stroke-width="1.2" stroke-linecap="butt"/>
<path d="M954.90,304.40 V307.80 A3.9,3.65 0 0 1 954.90,315.10 A3.9,3.65 0 0 1 954.90,322.40 A3.9,3.65 0 0 1 954.90,329.70 A3.9,3.65 0 0 1 954.90,337.00 V340.40" fill="none" stroke="#000" stroke-width="1.3"/>
<line x1="978.1" y1="376.8" x2="978.1" y2="364.0" stroke="#333" stroke-width="1.3" stroke-linecap="butt"/>
<line x1="995.9" y1="376.8" x2="995.9" y2="364.0" stroke="#333" stroke-width="1.3" stroke-linecap="butt"/>
<line x1="1013.8" y1="376.8" x2="1013.8" y2="364.0" stroke="#333" stroke-width="1.3" stroke-linecap="butt"/>
<path d="M978.10,364.00 H981.30 A3.66,3.9 0 0 1 988.62,364.00 A3.66,3.9 0 0 1 995.95,364.00 A3.66,3.9 0 0 1 1003.27,364.00 A3.66,3.9 0 0 1 1010.60,364.00 H1013.80" fill="none" stroke="#000" stroke-width="1.3"/>
<circle cx="996.0" cy="322.8" r="23.5" fill="none" stroke="#000" stroke-width="1.25"/>
<text x="932.20" y="301.00" font-size="5.4" fill="#a8a8a8" text-anchor="middle" textLength="3.42" lengthAdjust="spacingAndGlyphs" >A</text>
<text x="932.20" y="319.20" font-size="5.4" fill="#a8a8a8" text-anchor="middle" textLength="3.94" lengthAdjust="spacingAndGlyphs" >D</text>
<text x="932.20" y="337.00" font-size="5.4" fill="#a8a8a8" text-anchor="middle" textLength="3.41" lengthAdjust="spacingAndGlyphs" >C</text>
<text x="972.20" y="388.80" font-size="5.4" fill="#a8a8a8" text-anchor="middle" textLength="3.50" lengthAdjust="spacingAndGlyphs" >B</text>
<text x="990.00" y="388.80" font-size="5.4" fill="#a8a8a8" text-anchor="middle" textLength="3.00" lengthAdjust="spacingAndGlyphs" >E</text>
<text x="1007.90" y="388.80" font-size="5.4" fill="#a8a8a8" text-anchor="middle" textLength="3.94" lengthAdjust="spacingAndGlyphs" >D</text>
<text x="996.00" y="291.90" font-size="13.6" fill="#111111" text-anchor="middle" textLength="68.46" lengthAdjust="spacingAndGlyphs" >ROB-08420</text>
<text x="941.20" y="257.80" font-size="11.3" fill="#111111" text-anchor="start" textLength="105.93" lengthAdjust="spacingAndGlyphs" >Moteur pas à pas 1</text>
<line x1="941.8000000000001" y1="555.9" x2="959.5500000000001" y2="555.9" stroke="#4ca64c" stroke-width="2" stroke-linecap="butt"/>
<line x1="941.8000000000001" y1="574.1" x2="959.5500000000001" y2="574.1" stroke="#4ca64c" stroke-width="2" stroke-linecap="butt"/>
<line x1="941.8000000000001" y1="591.9" x2="959.5500000000001" y2="591.9" stroke="#4ca64c" stroke-width="2" stroke-linecap="butt"/>
<line x1="995.7" y1="628.3" x2="995.7" y2="645.5" stroke="#4ca64c" stroke-width="2" stroke-linecap="butt"/>
<line x1="1013.5" y1="628.3" x2="1013.5" y2="645.5" stroke="#4ca64c" stroke-width="2" stroke-linecap="butt"/>
<line x1="1031.3999999999999" y1="628.3" x2="1031.3999999999999" y2="645.5" stroke="#4ca64c" stroke-width="2" stroke-linecap="butt"/>
<rect x="959.5500000000001" y="520.5" width="108.15" height="107.80" fill="#fff" stroke="#000" stroke-width="2"/>
<line x1="959.5500000000001" y1="555.9" x2="972.5" y2="555.9" stroke="#1a1a1a" stroke-width="1.2" stroke-linecap="butt"/>
<line x1="959.5500000000001" y1="574.1" x2="972.5" y2="574.1" stroke="#1a1a1a" stroke-width="1.2" stroke-linecap="butt"/>
<line x1="959.5500000000001" y1="591.9" x2="972.5" y2="591.9" stroke="#1a1a1a" stroke-width="1.2" stroke-linecap="butt"/>
<path d="M972.50,555.90 V559.30 A3.9,3.65 0 0 1 972.50,566.60 A3.9,3.65 0 0 1 972.50,573.90 A3.9,3.65 0 0 1 972.50,581.20 A3.9,3.65 0 0 1 972.50,588.50 V591.90" fill="none" stroke="#000" stroke-width="1.3"/>
<line x1="995.7" y1="628.3" x2="995.7" y2="615.5" stroke="#333" stroke-width="1.3" stroke-linecap="butt"/>
<line x1="1013.5" y1="628.3" x2="1013.5" y2="615.5" stroke="#333" stroke-width="1.3" stroke-linecap="butt"/>
<line x1="1031.3999999999999" y1="628.3" x2="1031.3999999999999" y2="615.5" stroke="#333" stroke-width="1.3" stroke-linecap="butt"/>
<path d="M995.70,615.50 H998.90 A3.66,3.9 0 0 1 1006.23,615.50 A3.66,3.9 0 0 1 1013.55,615.50 A3.66,3.9 0 0 1 1020.88,615.50 A3.66,3.9 0 0 1 1028.20,615.50 H1031.40" fill="none" stroke="#000" stroke-width="1.3"/>
<circle cx="1013.6" cy="574.3" r="23.5" fill="none" stroke="#000" stroke-width="1.25"/>
<text x="949.80" y="552.50" font-size="5.4" fill="#a8a8a8" text-anchor="middle" textLength="3.42" lengthAdjust="spacingAndGlyphs" >A</text>
<text x="949.80" y="570.70" font-size="5.4" fill="#a8a8a8" text-anchor="middle" textLength="3.94" lengthAdjust="spacingAndGlyphs" >D</text>
<text x="949.80" y="588.50" font-size="5.4" fill="#a8a8a8" text-anchor="middle" textLength="3.41" lengthAdjust="spacingAndGlyphs" >C</text>
<text x="989.80" y="640.30" font-size="5.4" fill="#a8a8a8" text-anchor="middle" textLength="3.50" lengthAdjust="spacingAndGlyphs" >B</text>
<text x="1007.60" y="640.30" font-size="5.4" fill="#a8a8a8" text-anchor="middle" textLength="3.00" lengthAdjust="spacingAndGlyphs" >E</text>
<text x="1025.50" y="640.30" font-size="5.4" fill="#a8a8a8" text-anchor="middle" textLength="3.94" lengthAdjust="spacingAndGlyphs" >D</text>
<text x="1013.60" y="543.40" font-size="13.6" fill="#111111" text-anchor="middle" textLength="68.46" lengthAdjust="spacingAndGlyphs" >ROB-08420</text>
<text x="958.80" y="511.70" font-size="11.3" fill="#111111" text-anchor="start" textLength="105.93" lengthAdjust="spacingAndGlyphs" >Moteur pas à pas 2</text>
<line x1="1121.9" y1="473.5" x2="1121.9" y2="493.8" stroke="#4cc04c" stroke-width="2.4" stroke-linecap="butt"/>
<line x1="1121.9" y1="493.8" x2="1121.9" y2="501.7" stroke="#000" stroke-width="2.2" stroke-linecap="butt"/>
<line x1="1121.9" y1="528.7" x2="1121.9" y2="548.2" stroke="#4cc04c" stroke-width="2.4" stroke-linecap="butt"/>
<circle cx="1121.9" cy="484" r="2.7" fill="#3cf03c" fill-opacity="0.5"/>
<circle cx="1121.9" cy="537.5" r="2.7" fill="#3cf03c" fill-opacity="0.5"/>
<line x1="1094" y1="501.7" x2="1149.8" y2="501.7" stroke="#000" stroke-width="2.2" stroke-linecap="butt"/>
<line x1="1112.1" y1="510.5" x2="1131.9" y2="510.5" stroke="#000" stroke-width="2.2" stroke-linecap="butt"/>
<line x1="1094" y1="519.6" x2="1149.8" y2="519.6" stroke="#000" stroke-width="2.2" stroke-linecap="butt"/>
<line x1="1112.1" y1="528.7" x2="1131.9" y2="528.7" stroke="#000" stroke-width="2.2" stroke-linecap="butt"/>
<text x="1118.00" y="485.50" font-size="5" fill="#939393" text-anchor="middle" textLength="2.86" lengthAdjust="spacingAndGlyphs" >2</text>
<text x="1129.60" y="485.50" font-size="6" fill="#e03030" text-anchor="middle" textLength="3.43" lengthAdjust="spacingAndGlyphs" >+</text>
<text x="1118.00" y="539.50" font-size="5" fill="#939393" text-anchor="middle" textLength="2.86" lengthAdjust="spacingAndGlyphs" >1</text>
<text x="1128.00" y="539.50" font-size="6" fill="#555" text-anchor="middle" textLength="1.93" lengthAdjust="spacingAndGlyphs" >-</text>
<text x="1096.60" y="418.20" font-size="11.9" fill="#111111" text-anchor="start" textLength="19.86" lengthAdjust="spacingAndGlyphs" >Pile</text>
<text x="1096.60" y="430.60" font-size="11.9" fill="#111111" text-anchor="start" textLength="13.89" lengthAdjust="spacingAndGlyphs" >5V</text>
<circle cx="277" cy="321.79200000000003" r="2.7" fill="#3cf03c" fill-opacity="0.5"/>
<circle cx="277" cy="339.765" r="2.7" fill="#3cf03c" fill-opacity="0.5"/>
<circle cx="277" cy="357.738" r="2.7" fill="#3cf03c" fill-opacity="0.5"/>
<circle cx="277" cy="375.711" r="2.7" fill="#3cf03c" fill-opacity="0.5"/>
<circle cx="277" cy="393.68399999999997" r="2.7" fill="#3cf03c" fill-opacity="0.5"/>
<circle cx="277" cy="411.65700000000004" r="2.7" fill="#3cf03c" fill-opacity="0.5"/>
<circle cx="277" cy="429.63" r="2.7" fill="#3cf03c" fill-opacity="0.5"/>
<circle cx="277" cy="447.60299999999995" r="2.7" fill="#3cf03c" fill-opacity="0.5"/>
<circle cx="277" cy="465.576" r="2.7" fill="#3cf03c" fill-opacity="0.5"/>
<circle cx="132.7" cy="178.3" r="2.7" fill="#3cf03c" fill-opacity="0.5"/>
<circle cx="150.8" cy="591.4" r="2.7" fill="#3cf03c" fill-opacity="0.5"/>
<circle cx="509.6" cy="232.0" r="2.7" fill="#3cf03c" fill-opacity="0.5"/>
<circle cx="509.6" cy="250.0" r="2.7" fill="#3cf03c" fill-opacity="0.5"/>
<circle cx="509.6" cy="268.0" r="2.7" fill="#3cf03c" fill-opacity="0.5"/>
<circle cx="474.3" cy="322.0" r="2.7" fill="#3cf03c" fill-opacity="0.5"/>
<circle cx="744.5" cy="322.0" r="2.7" fill="#3cf03c" fill-opacity="0.5"/>
<circle cx="474.3" cy="339.973" r="2.7" fill="#3cf03c" fill-opacity="0.5"/>
<circle cx="744.5" cy="339.973" r="2.7" fill="#3cf03c" fill-opacity="0.5"/>
<circle cx="474.3" cy="357.946" r="2.7" fill="#3cf03c" fill-opacity="0.5"/>
<circle cx="744.5" cy="357.946" r="2.7" fill="#3cf03c" fill-opacity="0.5"/>
<circle cx="474.3" cy="375.919" r="2.7" fill="#3cf03c" fill-opacity="0.5"/>
<circle cx="744.5" cy="375.919" r="2.7" fill="#3cf03c" fill-opacity="0.5"/>
<circle cx="474.3" cy="447.811" r="2.7" fill="#3cf03c" fill-opacity="0.5"/>
<circle cx="744.5" cy="447.811" r="2.7" fill="#3cf03c" fill-opacity="0.5"/>
<circle cx="474.3" cy="555.65" r="2.7" fill="#3cf03c" fill-opacity="0.5"/>
<circle cx="744.5" cy="555.65" r="2.7" fill="#3cf03c" fill-opacity="0.5"/>
<circle cx="474.3" cy="573.6229999999999" r="2.7" fill="#3cf03c" fill-opacity="0.5"/>
<circle cx="744.5" cy="573.6229999999999" r="2.7" fill="#3cf03c" fill-opacity="0.5"/>
<circle cx="474.3" cy="591.596" r="2.7" fill="#3cf03c" fill-opacity="0.5"/>
<circle cx="744.5" cy="591.596" r="2.7" fill="#3cf03c" fill-opacity="0.5"/>
<circle cx="474.3" cy="609.569" r="2.7" fill="#3cf03c" fill-opacity="0.5"/>
<circle cx="744.5" cy="609.569" r="2.7" fill="#3cf03c" fill-opacity="0.5"/>
<circle cx="474.3" cy="681.461" r="2.7" fill="#3cf03c" fill-opacity="0.5"/>
<circle cx="744.5" cy="681.461" r="2.7" fill="#3cf03c" fill-opacity="0.5"/>
<circle cx="924.2" cy="304.4" r="2.7" fill="#3cf03c" fill-opacity="0.5"/>
<circle cx="924.2" cy="322.6" r="2.7" fill="#3cf03c" fill-opacity="0.5"/>
<circle cx="924.2" cy="340.4" r="2.7" fill="#3cf03c" fill-opacity="0.5"/>
<circle cx="978.1" cy="394.0" r="2.7" fill="#3cf03c" fill-opacity="0.5"/>
<circle cx="995.9" cy="394.0" r="2.7" fill="#3cf03c" fill-opacity="0.5"/>
<circle cx="1013.8" cy="394.0" r="2.7" fill="#3cf03c" fill-opacity="0.5"/>
<circle cx="941.8000000000001" cy="555.9" r="2.7" fill="#3cf03c" fill-opacity="0.5"/>
<circle cx="941.8000000000001" cy="574.1" r="2.7" fill="#3cf03c" fill-opacity="0.5"/>
<circle cx="941.8000000000001" cy="591.9" r="2.7" fill="#3cf03c" fill-opacity="0.5"/>
<circle cx="995.7" cy="645.5" r="2.7" fill="#3cf03c" fill-opacity="0.5"/>
<circle cx="1013.5" cy="645.5" r="2.7" fill="#3cf03c" fill-opacity="0.5"/>
<circle cx="1031.3999999999999" cy="645.5" r="2.7" fill="#3cf03c" fill-opacity="0.5"/>
<polyline points="132.7,178.3 132.7,159.8 456.3,159.8 456.3,231.9 509.6,232.0" fill="none" stroke="#cc1a1a" stroke-width="2" stroke-linejoin="miter"/>
<circle cx="132.7" cy="159.8" r="2.2" fill="#b81010"/>
<circle cx="456.3" cy="159.8" r="2.2" fill="#b81010"/>
<circle cx="456.3" cy="231.9" r="2.2" fill="#b81010"/>
<polyline points="277,321.79200000000003 474.3,322.0" fill="none" stroke="#418dd9" stroke-width="2" stroke-linejoin="miter"/>
<polyline points="277,339.765 474.3,339.9" fill="none" stroke="#ffef00" stroke-width="2" stroke-linejoin="miter"/>
<polyline points="277,357.738 474.3,357.9" fill="none" stroke="#22cc22" stroke-width="2" stroke-linejoin="miter"/>
<polyline points="277,375.711 474.3,375.8" fill="none" stroke="#959595" stroke-width="2" stroke-linejoin="miter"/>
<polyline points="277,393.68399999999997 384.7,393.8 384.7,555.7 474.3,555.7" fill="none" stroke="#418dd9" stroke-width="2" stroke-linejoin="miter"/>
<circle cx="384.7" cy="393.8" r="2.2" fill="#2f6fb0"/>
<circle cx="384.7" cy="555.7" r="2.2" fill="#2f6fb0"/>
<polyline points="277,411.65700000000004 366.8,411.8 366.8,573.5 474.3,573.5" fill="none" stroke="#ffef00" stroke-width="2" stroke-linejoin="miter"/>
<circle cx="366.8" cy="411.8" r="2.2" fill="#d0cc30"/>
<circle cx="366.8" cy="573.5" r="2.2" fill="#d0cc30"/>
<polyline points="277,429.63 348.7,429.8 348.7,591.7 474.3,591.7" fill="none" stroke="#22cc22" stroke-width="2" stroke-linejoin="miter"/>
<circle cx="348.7" cy="429.8" r="2.2" fill="#10a010"/>
<circle cx="348.7" cy="591.7" r="2.2" fill="#10a010"/>
<polyline points="277,447.60299999999995 331.0,447.8 331.0,609.9 474.3,609.9" fill="none" stroke="#959595" stroke-width="2" stroke-linejoin="miter"/>
<circle cx="331.0" cy="447.8" r="2.2" fill="#666"/>
<circle cx="331.0" cy="609.9" r="2.2" fill="#666"/>
<polyline points="277,465.8 312.5,466.3 312.5,250.2 509.6,250.0" fill="none" stroke="#ab58a2" stroke-width="2" stroke-linejoin="miter"/>
<circle cx="312.5" cy="466.3" r="2.2" fill="#7a3070"/>
<circle cx="312.5" cy="250.2" r="2.2" fill="#7a3070"/>
<polyline points="509.6,268.0 456.3,268.2 458.5,448.0 456.0,681.7 456.4,717.8 1121.7,717.6 1121.9,537.5" fill="none" stroke="#404040" stroke-width="2" stroke-linejoin="miter"/>
<circle cx="456.3" cy="268.2" r="2.2" fill="#333"/>
<circle cx="456.4" cy="717.8" r="2.2" fill="#333"/>
<circle cx="1121.7" cy="717.6" r="2.2" fill="#333"/>
<line x1="458.5" y1="447.8" x2="474.3" y2="447.8" stroke="#404040" stroke-width="2" stroke-linecap="butt"/>
<circle cx="458.5" cy="448.0" r="3.85" fill="#383838"/>
<polyline points="150.8,591.4 150.8,681.4 474.3,681.4" fill="none" stroke="#404040" stroke-width="2" stroke-linejoin="miter"/>
<circle cx="150.8" cy="681.4" r="2.2" fill="#333"/>
<circle cx="456.0" cy="681.7" r="3.85" fill="#383838"/>
<polyline points="744.5,447.8 1121.9,447.8 1121.9,484.0" fill="none" stroke="#cc1a1a" stroke-width="2" stroke-linejoin="miter"/>
<circle cx="1121.9" cy="447.8" r="2.2" fill="#b81010"/>
<polyline points="995.9,394.0 995.9,447.8" fill="none" stroke="#cc1a1a" stroke-width="2" stroke-linejoin="miter"/>
<circle cx="995.9" cy="447.8" r="2.2" fill="#b81010"/>
<polyline points="924.2,322.6 871.3,322.1 869.8,447.7 870.2,573.3" fill="none" stroke="#cc1a1a" stroke-width="2" stroke-linejoin="miter"/>
<circle cx="871.3" cy="322.1" r="2.2" fill="#b81010"/>
<polyline points="869.8,447.7 872.2,680.1" fill="none" stroke="#cc1a1a" stroke-width="2" stroke-linejoin="miter"/>
<polyline points="870.2,573.3 941.8,574.1" fill="none" stroke="#cc1a1a" stroke-width="2" stroke-linejoin="miter"/>
<circle cx="870.2" cy="573.3" r="2.2" fill="#b81010"/>
<polyline points="744.5,681.45 872.2,680.1 1013.5,680.4 1013.5,645.5" fill="none" stroke="#cc1a1a" stroke-width="2" stroke-linejoin="miter"/>
<circle cx="1013.5" cy="680.4" r="2.2" fill="#b81010"/>
<circle cx="869.8" cy="447.7" r="3.85" fill="#c81010"/>
<circle cx="872.2" cy="680.1" r="3.85" fill="#c81010"/>
<polyline points="744.5,322.0 833.7,322.1 833.7,304.0 870.2,304.0 924.2,304.4" fill="none" stroke="#418dd9" stroke-width="2" stroke-linejoin="miter"/>
<circle cx="833.7" cy="322.1" r="2.2" fill="#2f6fb0"/>
<circle cx="833.7" cy="304.0" r="2.2" fill="#2f6fb0"/>
<circle cx="870.2" cy="304.0" r="2.2" fill="#2f6fb0"/>
<polyline points="744.5,339.9 852.3,340.0 924.2,340.4" fill="none" stroke="#ffef00" stroke-width="2" stroke-linejoin="miter"/>
<circle cx="852.3" cy="340.0" r="2.2" fill="#d0cc30"/>
<polyline points="744.5,357.9 833.7,357.9 833.7,411.6 978.1,411.6 978.1,394.0" fill="none" stroke="#22cc22" stroke-width="2" stroke-linejoin="miter"/>
<circle cx="833.7" cy="357.9" r="2.2" fill="#10a010"/>
<circle cx="833.7" cy="411.6" r="2.2" fill="#10a010"/>
<circle cx="978.1" cy="411.6" r="2.2" fill="#10a010"/>
<polyline points="744.5,375.8 815.8,376.0 815.8,429.5 1013.8,429.5 1013.8,394.0" fill="none" stroke="#959595" stroke-width="2" stroke-linejoin="miter"/>
<circle cx="815.8" cy="376.0" r="2.2" fill="#666"/>
<circle cx="815.8" cy="429.5" r="2.2" fill="#666"/>
<circle cx="1013.8" cy="429.5" r="2.2" fill="#666"/>
<polyline points="744.5,555.65 1014.1,555.8" fill="none" stroke="#418dd9" stroke-width="2" stroke-linejoin="miter"/>
<circle cx="1014.1" cy="555.8" r="2.2" fill="#2f6fb0"/>
<polyline points="744.5,573.55 852.5,573.3 852.5,591.5 941.8,591.9" fill="none" stroke="#ffef00" stroke-width="2" stroke-linejoin="miter"/>
<circle cx="852.5" cy="573.3" r="2.2" fill="#d0cc30"/>
<circle cx="852.5" cy="591.5" r="2.2" fill="#d0cc30"/>
<polyline points="744.5,591.55 833.7,591.6 833.7,645.8 995.7,645.6" fill="none" stroke="#22cc22" stroke-width="2" stroke-linejoin="miter"/>
<circle cx="833.7" cy="591.6" r="2.2" fill="#10a010"/>
<circle cx="833.7" cy="645.8" r="2.2" fill="#10a010"/>
<circle cx="995.7" cy="645.6" r="2.2" fill="#10a010"/>
<polyline points="744.5,609.45 815.8,609.7 815.8,663.7 1031.4,663.7 1031.4,645.5" fill="none" stroke="#959595" stroke-width="2" stroke-linejoin="miter"/>
<circle cx="815.8" cy="609.7" r="2.2" fill="#666"/>
<circle cx="815.8" cy="663.7" r="2.2" fill="#666"/>
<circle cx="1031.4" cy="663.7" r="2.2" fill="#666"/>
<line x1="744.5" y1="341.2" x2="744.5" y2="394.6" stroke="#1c78e4" stroke-width="1.3" stroke-dasharray="2.1,2.1"/>
</svg></body></html>
